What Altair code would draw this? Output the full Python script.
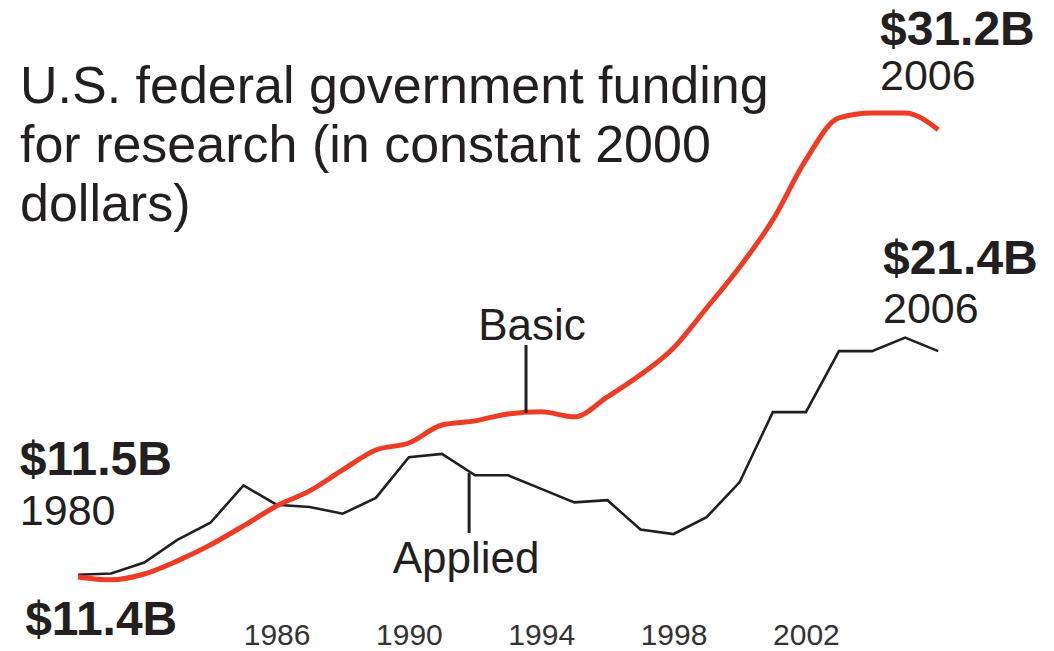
import altair as alt
import pandas as pd

# ---- data ----
years = list(range(1980, 2007))
basic = [11.4, 11.27, 11.53, 12.11, 12.82, 13.66, 14.54, 15.21, 16.14, 17.02,
         17.33, 18.13, 18.31, 18.62, 18.71, 18.49, 19.37, 20.35, 21.54, 23.31,
         25.13, 27.21, 29.87, 31.73, 31.95, 31.95, 31.2]
applied = [11.5, 11.55, 12.04, 13.04, 13.8, 15.45, 14.6, 14.5, 14.2, 14.9,
           16.7, 16.85, 15.9, 15.9, 15.3, 14.7, 14.8, 13.5, 13.3, 14.05,
           15.6, 18.7, 18.7, 21.4, 21.4, 22.0, 21.4]
tick_years = [1986, 1990, 1994, 1998, 2002]

title_lines = ["U.S. federal government funding",
               "for research (in constant 2000",
               "dollars)"]

# value labels (bold) and their year captions
bold_text = ["$31.2B", "$21.4B", "$11.5B", "$11.4B"]
bold_x = [2004.24, 2004.33, 1978.24, 1978.40]
bold_y = [34.96, 24.82, 15.92, 8.83]

cap_text = ["2006", "2006", "1980"]
cap_x = [2004.24, 2004.33, 1978.24]
cap_y = [32.97, 22.65, 13.70]

series_text = ["Basic", "Applied"]
series_x = [1993.72, 1991.73]
series_y = [21.90, 11.58]

leader_x = [1993.54, 1991.82]
leader_y1 = [21.67, 16.0]
leader_y2 = [18.66, 13.35]

# ---- tables ----
basic_df = pd.DataFrame({"year": years, "value": basic})
applied_df = pd.DataFrame({"year": years, "value": applied})
bold_df = pd.DataFrame({"t": bold_text, "x": bold_x, "y": bold_y})
cap_df = pd.DataFrame({"t": cap_text, "x": cap_x, "y": cap_y})
ser_df = pd.DataFrame({"t": series_text, "x": series_x, "y": series_y})
lead_df = pd.DataFrame({"x": leader_x, "y": leader_y1, "y2": leader_y2})

FONT = "Liberation Sans"
INK = "#231f20"

xscale = alt.Scale(domain=[1977.64, 2009.50], nice=False, zero=False)
yscale = alt.Scale(domain=[8.12, 36.95], nice=False, zero=False)

xaxis = alt.Axis(values=tick_years, format="d", title=None, domain=False,
                 ticks=False, tickSize=0, grid=False, labelPadding=0,
                 labelBaseline="alphabetic", offset=-7, labelFontSize=30,
                 labelFont=FONT, labelColor="#333333")

applied_line = alt.Chart(applied_df).mark_line(
    color=INK, strokeWidth=2.6
).encode(
    x=alt.X("year:Q", scale=xscale, axis=xaxis),
    y=alt.Y("value:Q", scale=yscale, axis=None),
)

basic_line = alt.Chart(basic_df).mark_line(
    color="#ef3b23", strokeWidth=5, interpolate="monotone"
).encode(
    x=alt.X("year:Q", scale=xscale),
    y=alt.Y("value:Q", scale=yscale),
)

leaders = alt.Chart(lead_df).mark_rule(color=INK, strokeWidth=3).encode(
    x=alt.X("x:Q", scale=xscale),
    y=alt.Y("y:Q", scale=yscale),
    y2="y2:Q",
)

bold_labels = alt.Chart(bold_df).mark_text(
    font=FONT, fontSize=48, fontWeight="bold", color=INK,
    align="left", baseline="alphabetic"
).encode(
    x=alt.X("x:Q", scale=xscale),
    y=alt.Y("y:Q", scale=yscale),
    text="t:N",
)

cap_labels = alt.Chart(cap_df).mark_text(
    font=FONT, fontSize=43, color=INK, align="left", baseline="alphabetic"
).encode(
    x=alt.X("x:Q", scale=xscale),
    y=alt.Y("y:Q", scale=yscale),
    text="t:N",
)

series_labels = alt.Chart(ser_df).mark_text(
    font=FONT, fontSize=44, color=INK, align="center", baseline="alphabetic"
).encode(
    x=alt.X("x:Q", scale=xscale),
    y=alt.Y("y:Q", scale=yscale),
    text="t:N",
)

title = alt.Chart(pd.DataFrame({"a": [0]})).mark_text(
    font=FONT, fontSize=52, color=INK, align="left", baseline="alphabetic",
    lineHeight=59
).encode(
    x=alt.value(20),
    y=alt.value(103),
    text=alt.value(title_lines),
)

chart = alt.layer(
    applied_line, basic_line, leaders, bold_labels, cap_labels,
    series_labels, title
).properties(
    width=1054, height=651,
    autosize=alt.AutoSizeParams(type="none"),
    padding=0,
    background="white",
).configure_view(stroke=None)

chart.save("out.html", embed_options={"renderer": "svg", "actions": False})
